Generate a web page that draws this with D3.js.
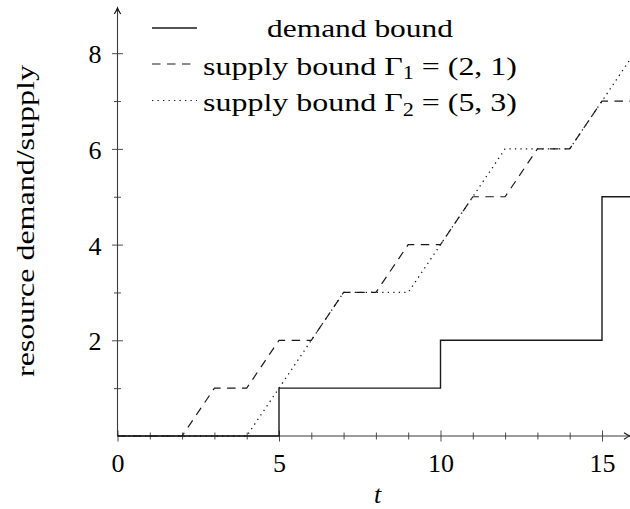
<!DOCTYPE html>
<html>
<head>
<meta charset="utf-8">
<script src="https://cdn.jsdelivr.net/npm/d3@7"></script>
<style>
  html, body { margin: 0; padding: 0; background: #fff; }
  svg { display: block; }
</style>
</head>
<body>
<svg id="chart" width="630" height="509"></svg>
<script>
// Demand bound: step function, value holds from each t until the next t
const demandT = [0, 5, 10, 15, 16];
const demandV = [0, 1, 2, 5, 5];

// Supply bound for periodic resource Γ1 = (2, 1): corner points
const supply1T = [0, 2, 3, 4, 5, 6, 7, 8, 9, 10, 11, 12, 13, 14, 15, 16];
const supply1V = [0, 0, 1, 1, 2, 2, 3, 3, 4, 4, 5, 5, 6, 6, 7, 7];

// Supply bound for periodic resource Γ2 = (5, 3): corner points
const supply2T = [0, 4, 7, 9, 12, 14, 16];
const supply2V = [0, 0, 3, 3, 6, 6, 8];

// Axis ticks
const xMajorTicks = [0, 5, 10, 15];
const xMinorTicks = [1, 2, 3, 4, 6, 7, 8, 9, 11, 12, 13, 14];
const yMajorTicks = [2, 4, 6, 8];
const yMinorTicks = [1, 3, 5, 7];

const legendLabels = ["demand bound", "supply bound Γ", "supply bound Γ"];
const legendSubs = ["", "1", "2"];
const legendTails = ["", " = (2, 1)", " = (5, 3)"];

const FONT = "'Liberation Serif'";
const FS = "26px";

const svg = d3.select("#chart");
const W = 630, H = 509;

const x = d3.scaleLinear().domain([0, 16]).range([117.5, 117.5 + 16 * 32.3]);
const y = d3.scaleLinear().domain([0, 8]).range([436, 53.2]);

const ink = "#1a1a1a";
const axisInk = "#3a3a3a";

function serif(sel) {
  return sel.style("font-family", FONT).style("font-size", FS).attr("fill", "#000");
}

// Plot clip so curves stop at the page edge
svg.append("defs").append("clipPath").attr("id", "plotClip")
  .append("rect").attr("x", x(0)).attr("y", 0).attr("width", W - x(0)).attr("height", y(0) + 1);

// ---- axes ----
function crossTicks(g) {
  g.attr("font-family", null).attr("font-size", null);
  g.select(".domain").remove();
  g.selectAll(".tick line").attr("stroke", axisInk).attr("stroke-width", 0.9);
  return g;
}

// x axis: major ticks with labels
const gxMaj = svg.append("g").attr("transform", `translate(0,${y(0)})`)
  .call(d3.axisBottom(x).tickValues(xMajorTicks).tickFormat(d3.format("d")).tickSizeOuter(0));
crossTicks(gxMaj);
gxMaj.selectAll(".tick line").attr("y1", -5.5).attr("y2", 5.5);
serif(gxMaj.selectAll(".tick text").attr("y", 36).attr("dy", null));

const gxMin = svg.append("g").attr("transform", `translate(0,${y(0)})`)
  .call(d3.axisBottom(x).tickValues(xMinorTicks).tickFormat("").tickSizeOuter(0));
crossTicks(gxMin);
gxMin.selectAll(".tick line").attr("y1", -3.5).attr("y2", 3.5);

// y axis
const gyMaj = svg.append("g").attr("transform", `translate(${x(0)},0)`)
  .call(d3.axisLeft(y).tickValues(yMajorTicks).tickFormat(d3.format("d")).tickSizeOuter(0));
crossTicks(gyMaj);
gyMaj.selectAll(".tick line").attr("x1", -5.5).attr("x2", 5.5);
serif(gyMaj.selectAll(".tick text").attr("x", -16).attr("dy", null).attr("y", 9.5));

const gyMin = svg.append("g").attr("transform", `translate(${x(0)},0)`)
  .call(d3.axisLeft(y).tickValues(yMinorTicks).tickFormat("").tickSizeOuter(0));
crossTicks(gyMin);
gyMin.selectAll(".tick line").attr("x1", -3.5).attr("x2", 3.5);

// axis lines with arrow heads
const x0 = x(0), y0 = y(0);
const xEnd = 630, yEnd = 8;
svg.append("line").attr("x1", x0).attr("y1", y0).attr("x2", xEnd).attr("y2", y0)
  .attr("stroke", axisInk).attr("stroke-width", 1.1);
svg.append("line").attr("x1", x0).attr("y1", y0).attr("x2", x0).attr("y2", yEnd)
  .attr("stroke", axisInk).attr("stroke-width", 1.1);
svg.append("path")
  .attr("d", `M${x0 - 3.2},${yEnd + 6} Q${x0 - 0.6},${yEnd + 2} ${x0},${yEnd} Q${x0 + 0.6},${yEnd + 2} ${x0 + 3.2},${yEnd + 6}`)
  .attr("fill", "none").attr("stroke", "#111").attr("stroke-width", 1.1);
svg.append("path")
  .attr("d", `M${xEnd - 6},${y0 - 3.2} Q${xEnd - 2},${y0 - 0.6} ${xEnd},${y0} Q${xEnd - 2},${y0 + 0.6} ${xEnd - 6},${y0 + 3.2}`)
  .attr("fill", "none").attr("stroke", "#111").attr("stroke-width", 1.1);

// axis titles
serif(svg.append("text").attr("x", x(8.05)).attr("y", 503)
  .attr("text-anchor", "middle").style("font-style", "italic").text("t"));
serif(svg.append("text").attr("transform", "translate(34,221) rotate(-90)")
  .attr("text-anchor", "middle")
  .attr("textLength", 312).attr("lengthAdjust", "spacingAndGlyphs")
  .text("resource demand/supply"));

// ---- curves ----
const plot = svg.append("g").attr("clip-path", "url(#plotClip)");

const stepLine = d3.line().x(d => x(d[0])).y(d => y(d[1])).curve(d3.curveStepAfter);
const polyLine = d3.line().x(d => x(d[0])).y(d => y(d[1]));

const supply2Pts = d3.zip(supply2T, supply2V);
const supply1Pts = d3.zip(supply1T, supply1V);
const demandPts = d3.zip(demandT, demandV);

plot.append("path").attr("d", polyLine(supply2Pts))
  .attr("fill", "none").attr("stroke", ink).attr("stroke-width", 1.3)
  .attr("stroke-dasharray", "1.3,4.2");
plot.append("path").attr("d", polyLine(supply1Pts))
  .attr("fill", "none").attr("stroke", ink).attr("stroke-width", 1.2)
  .attr("stroke-dasharray", "8.5,6.5");
plot.append("path").attr("d", stepLine(demandPts))
  .attr("fill", "none").attr("stroke", ink).attr("stroke-width", 1.4);

// ---- legend ----
const legendRows = [28, 64, 100.5];
const legendBase = [37, 74.5, 111];
const legendWidths = [186, 314, 314];
const dashes = [null, "8.5,6.5", "1.3,4.2"];
const legend = svg.append("g");
legendRows.forEach((ly, i) => {
  legend.append("line").attr("x1", 152).attr("x2", 197).attr("y1", ly).attr("y2", ly)
    .attr("stroke", ink).attr("stroke-width", i === 0 ? 1.4 : 1.2)
    .attr("stroke-dasharray", dashes[i]);
  const t = serif(legend.append("text").attr("x", 360).attr("y", legendBase[i])
    .attr("text-anchor", "middle")
    .attr("textLength", legendWidths[i]).attr("lengthAdjust", "spacingAndGlyphs"));
  t.append("tspan").text(legendLabels[i]);
  if (legendSubs[i]) {
    t.append("tspan").attr("dy", 4.5).style("font-size", "18px").text(legendSubs[i]);
    t.append("tspan").attr("dy", -4.5).text(legendTails[i]);
  }
});
</script>
</body>
</html>
